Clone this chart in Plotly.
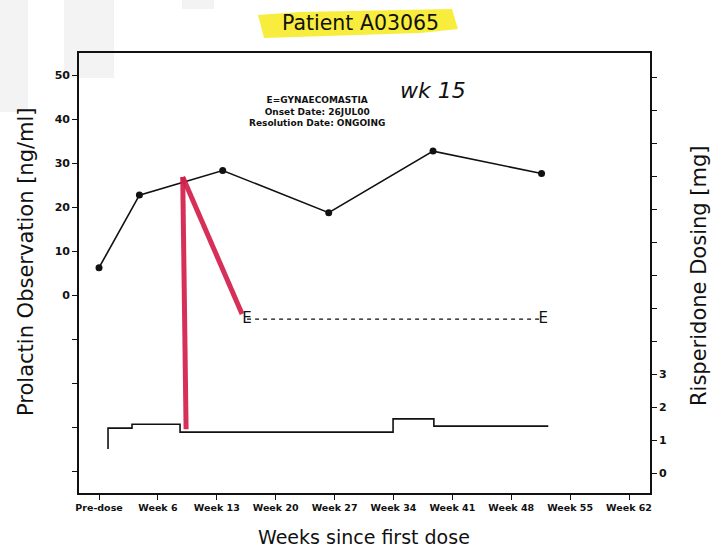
import plotly.graph_objects as go

# ---- data ----
tick_weeks = [-1, 6, 13, 20, 27, 34, 41, 48, 55, 62]
tick_labels = ["Pre-dose", "Week 6", "Week 13", "Week 20", "Week 27",
               "Week 34", "Week 41", "Week 48", "Week 55", "Week 62"]

prl_weeks = [-1.0, 3.8, 13.7, 26.3, 38.7, 51.6]
prl_values = [6.2, 22.7, 28.3, 18.7, 32.7, 27.6]

dose_weeks = [0.07, 0.07, 2.92, 8.63, 33.95, 38.8, 52.4]
dose_values = [0.73, 1.36, 1.48, 1.24, 1.64, 1.42, 1.42]

ae_weeks = [16.6, 51.8]
ae_level = [-5.5, -5.5]
ae_labels = ["E", "E"]

red_vertical_x = [8.95, 9.35]
red_vertical_y = [26.8, -30.5]
red_diag_x = [8.95, 16.0]
red_diag_y = [26.8, -4.3]

# ---- geometry helpers (pixel -> paper) ----
W, H = 711, 551
L, R, T, B = 79, 650, 53, 493
def px(x):
    return (x - L) / (R - L)
def py(y):
    return (B - y) / (B - T)

FONT = "DejaVu Sans"
fig = go.Figure()

fig.add_trace(go.Scatter(
    x=prl_weeks, y=prl_values, mode="lines+markers",
    line=dict(color="#111111", width=1.6),
    marker=dict(color="#111111", size=7),
    yaxis="y", showlegend=False))

fig.add_trace(go.Scatter(
    x=dose_weeks, y=dose_values, mode="lines", line_shape="hv",
    line=dict(color="#111111", width=1.6),
    yaxis="y2", showlegend=False))

fig.add_trace(go.Scatter(
    x=ae_weeks, y=ae_level, mode="lines",
    line=dict(color="#111111", width=1.2, dash="4px,4px"),
    yaxis="y", showlegend=False))
fig.add_trace(go.Scatter(
    x=ae_weeks, y=ae_level, mode="text", text=ae_labels,
    textfont=dict(family=FONT, size=15, color="#111111"),
    textposition="middle center", yaxis="y", showlegend=False))

shapes = []
# scan halftone artefacts
for x0, y0, x1, y1 in [(0, 0, 28, 112), (64, 0, 114, 78), (182, 0, 214, 9)]:
    shapes.append(dict(type="rect", xref="paper", yref="paper",
                       x0=px(x0), x1=px(x1), y0=py(y1), y1=py(y0),
                       fillcolor="rgba(160,160,160,0.12)", line=dict(width=0),
                       layer="below"))
# yellow highlighter
hp = [(258, 15), (300, 12), (452, 9), (458, 29), (420, 33), (264, 38)]
path = "M " + " L ".join(f"{px(a):.4f},{py(b):.4f}" for a, b in hp) + " Z"
shapes.append(dict(type="path", xref="paper", yref="paper", path=path,
                   fillcolor="rgba(248,236,50,0.95)", line=dict(width=0), layer="below"))
# red hand-drawn strokes
shapes.append(dict(type="line", xref="x", yref="y",
                   x0=red_vertical_x[0], y0=red_vertical_y[0],
                   x1=red_vertical_x[1], y1=red_vertical_y[1],
                   line=dict(color="rgba(210,30,75,0.92)", width=5)))
shapes.append(dict(type="line", xref="x", yref="y",
                   x0=red_diag_x[0], y0=red_diag_y[0],
                   x1=red_diag_x[1], y1=red_diag_y[1],
                   line=dict(color="rgba(210,30,75,0.92)", width=5)))

annotations = [
    dict(text="Patient A03065", x=px(360), y=py(23), xref="paper", yref="paper",
         showarrow=False, font=dict(family=FONT, size=20.5, color="#111111"),
         xanchor="center", yanchor="middle"),
    dict(text="E=GYNAECOMASTIA<br>Onset Date: 26JUL00<br>Resolution Date: ONGOING",
         x=px(317), y=py(112), xref="paper", yref="paper", showarrow=False,
         font=dict(family=FONT, size=9, color="#111111", weight="bold"),
         align="center", xanchor="center", yanchor="middle"),
    dict(text="<i>wk 15</i>", x=px(433), y=py(91), xref="paper", yref="paper",
         showarrow=False, font=dict(family=FONT, size=22, color="#111111"),
         xanchor="center", yanchor="middle"),
    dict(text="Prolactin Observation [ng/ml]", x=px(26), y=py(262), xref="paper",
         yref="paper", showarrow=False, textangle=-90,
         font=dict(family=FONT, size=21, color="#111111"),
         xanchor="center", yanchor="middle"),
    dict(text="Risperidone Dosing [mg]", x=px(699), y=py(276), xref="paper",
         yref="paper", showarrow=False, textangle=-90,
         font=dict(family=FONT, size=21, color="#111111"),
         xanchor="center", yanchor="middle"),
    dict(text="Weeks since first dose", x=px(364), y=py(537), xref="paper",
         yref="paper", showarrow=False,
         font=dict(family=FONT, size=19, color="#111111"),
         xanchor="center", yanchor="middle"),
]

left_ticks = list(range(-40, 51, 10))
left_text = [str(v) if v >= 0 else "" for v in left_ticks]
right_ticks = list(range(0, 13))
right_text = [str(v) if v <= 3 else "" for v in right_ticks]

fig.update_layout(
    width=W, height=H,
    margin=dict(l=L, r=W - R, t=T, b=H - B),
    paper_bgcolor="white", plot_bgcolor="white",
    shapes=shapes, annotations=annotations,
    xaxis=dict(range=[-3.38, 64.49], tickvals=tick_weeks, ticktext=tick_labels,
               ticks="outside", ticklen=5, tickwidth=1.3, tickcolor="#111111",
               showline=True, linecolor="#111111", linewidth=1.6, mirror=True,
               showgrid=False, zeroline=False,
               tickfont=dict(family=FONT, size=9.5, color="#111111", weight="bold")),
    yaxis=dict(range=[-45, 55], tickvals=left_ticks, ticktext=left_text,
               ticks="outside", ticklen=5, tickwidth=1.3, tickcolor="#111111",
               showline=True, linecolor="#111111", linewidth=1.6,
               showgrid=False, zeroline=False,
               tickfont=dict(family=FONT, size=11, color="#111111", weight="bold")),
    yaxis2=dict(range=[-0.606, 12.73], tickvals=right_ticks, ticktext=right_text,
                overlaying="y", side="right",
                ticks="outside", ticklen=5, tickwidth=1.3, tickcolor="#111111",
                showline=True, linecolor="#111111", linewidth=1.6,
                showgrid=False, zeroline=False,
                tickfont=dict(family=FONT, size=11, color="#111111", weight="bold")),
)

fig.write_html("out.html", config={"displayModeBar": False},
               post_script="document.body.style.margin='0';document.body.style.padding='0';")
